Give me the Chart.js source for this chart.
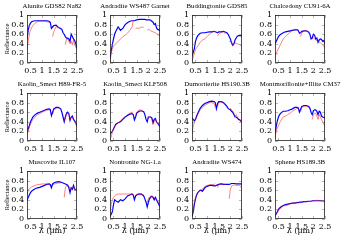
<!DOCTYPE html>
<html><head><meta charset="utf-8">
<script src="https://cdn.jsdelivr.net/npm/chart.js@4/dist/chart.umd.min.js"></script>
<style>
html,body{margin:0;padding:0;background:#fff;width:346px;height:242px;overflow:hidden;position:relative}
canvas{position:absolute}
</style></head><body>
<script>
// Wavelength grid (µm)
const WAVELENGTHS=[0.35,0.4,0.45,0.5,0.55,0.6,0.7,0.8,0.9,1.0,1.1,1.2,1.3,1.35,1.4,1.45,1.5,1.6,1.7,1.8,1.85,1.9,1.95,2.0,2.05,2.1,2.15,2.2,2.25,2.3,2.35,2.4,2.45,2.5];
const X_TICKS=[0.5,1,1.5,2,2.5];
const Y_TICKS=[0,0.2,0.4,0.6,0.8,1];
const TITLES=["Alunite GDS82 Na82","Andradite WS487 Garnet","Buddingtonite GDS85","Chalcedony CU91-6A",
"Kaolin_Smect H89-FR-5","Kaolin_Smect KLF508","Dumortierite HS190.3B","Montmorillonite+Illite CM37",
"Muscovite IL107","Nontronite NG-1.a","Andradite WS474","Sphene HS189.3B"];

const aluniteBlue=[0.5,0.68,0.78,0.83,0.86,0.87,0.88,0.88,0.88,0.88,0.88,0.88,0.87,0.85,0.72,0.75,0.78,0.79,0.74,0.72,0.7,0.63,0.6,0.55,0.52,0.52,0.5,0.45,0.6,0.55,0.5,0.47,0.4,0.3];
const aluniteRed=[0.25,0.45,0.6,0.68,0.74,0.78,0.83,0.86,0.87,0.87,0.87,0.86,0.85,0.82,null,0.55,0.65,0.76,0.74,0.7,null,null,null,0.38,0.5,0.5,0.45,0.4,0.45,0.38,0.48,0.38,0.33,0.28];
const andradite487Blue=[0.1,0.25,0.38,0.5,0.6,0.66,0.75,0.68,0.72,0.8,0.84,0.87,0.88,0.88,0.88,0.89,0.9,0.91,0.91,0.91,0.91,0.9,0.9,0.9,0.9,0.89,0.87,0.85,0.8,0.82,0.73,0.7,0.69,0.67];
const andradite487Red=[0.0,0.2,0.3,0.35,0.38,0.4,0.45,0.5,0.55,0.58,0.62,0.68,0.75,0.9,null,0.72,0.73,0.72,0.75,0.74,null,null,0.68,0.7,0.69,0.67,0.66,0.65,0.64,0.63,0.61,0.6,0.58,0.55];
const buddingtoniteBlue=[0.15,0.22,0.3,0.45,0.52,0.57,0.62,0.63,0.63,0.64,0.65,0.65,0.66,0.65,0.64,0.63,0.65,0.65,0.66,0.64,0.63,0.6,0.55,0.5,0.42,0.37,0.4,0.48,0.52,0.56,0.57,0.57,0.57,0.55];
const buddingtoniteRed=[0.05,0.12,0.2,0.28,0.32,0.35,0.43,0.48,0.5,0.55,0.6,0.64,0.66,0.64,null,0.56,0.6,0.64,0.65,0.6,null,null,0.45,0.45,0.44,0.35,0.38,0.42,0.41,0.4,0.39,0.38,0.36,0.33];
const chalcedonyBlue=[0.4,0.45,0.5,0.55,0.58,0.6,0.63,0.65,0.66,0.67,0.68,0.69,0.69,0.68,0.62,0.63,0.66,0.67,0.67,0.64,0.6,0.5,0.52,0.6,0.58,0.5,0.52,0.43,0.48,0.5,0.49,0.45,0.47,0.4];
const chalcedonyRed=[0.1,0.2,0.25,0.3,0.35,0.4,0.5,0.55,0.6,0.64,0.68,0.7,0.7,0.69,null,0.55,0.62,0.67,0.67,0.65,null,null,0.5,0.52,0.5,0.48,0.47,0.45,0.44,0.42,0.4,0.38,0.35,0.3];
const kaolinH89Blue=[0.2,0.25,0.32,0.4,0.45,0.5,0.55,0.58,0.6,0.62,0.64,0.66,0.67,0.66,0.53,0.6,0.67,0.7,0.7,0.67,0.6,0.5,0.4,0.5,0.58,0.6,0.57,0.43,0.5,0.52,0.45,0.42,0.38,0.32];
const kaolinH89Red=[0.12,0.2,0.28,0.35,0.4,0.45,0.5,0.55,0.57,0.6,0.62,0.64,0.65,0.63,null,0.55,0.64,0.68,0.69,0.66,null,null,0.42,0.5,0.55,0.58,0.55,0.45,0.5,0.5,0.44,0.4,0.35,0.28];
const kaolinKLFBlue=[0.15,0.17,0.2,0.25,0.3,0.35,0.38,0.4,0.45,0.5,0.53,0.56,0.57,0.55,0.44,0.5,0.58,0.62,0.63,0.61,0.55,0.45,0.4,0.5,0.5,0.5,0.48,0.38,0.45,0.47,0.4,0.37,0.34,0.3];
const kaolinKLFRed=[0.05,0.08,0.18,0.25,0.3,0.33,0.38,0.42,0.47,0.5,0.55,0.58,0.6,0.6,null,0.55,0.6,0.65,0.64,0.6,null,null,0.45,0.5,0.5,0.5,0.45,0.35,0.4,0.45,0.4,0.35,0.32,0.28];
const dumortieriteBlue=[0.48,0.45,0.42,0.45,0.52,0.58,0.68,0.74,0.78,0.8,0.82,0.83,0.82,0.8,0.67,0.78,0.82,0.82,0.8,0.75,0.72,0.68,0.66,0.65,0.62,0.6,0.55,0.5,0.5,0.48,0.45,0.44,0.42,0.38];
const dumortieriteRed=[0.15,0.3,0.38,0.45,0.5,0.55,0.65,0.7,0.74,0.77,0.8,0.8,0.78,0.7,null,0.72,0.8,0.82,0.8,0.76,null,null,0.65,0.68,0.65,0.62,0.58,0.52,0.55,0.5,0.47,0.45,0.42,0.38];
const montmorilloniteBlue=[0.15,0.3,0.42,0.5,0.55,0.58,0.62,0.62,0.63,0.65,0.67,0.7,0.7,0.69,0.6,0.66,0.72,0.74,0.74,0.72,0.68,0.6,0.55,0.63,0.65,0.65,0.62,0.55,0.62,0.6,0.52,0.5,0.49,0.48];
const montmorilloniteRed=[0.05,0.2,0.27,0.32,0.38,0.42,0.5,0.52,0.55,0.58,0.62,0.65,0.68,0.67,null,0.6,0.7,0.72,0.72,0.7,null,null,0.45,0.55,0.57,0.58,0.52,0.45,0.55,0.5,0.45,0.4,0.35,0.3];
const muscoviteBlue=[0.38,0.45,0.5,0.55,0.58,0.6,0.63,0.65,0.66,0.68,0.7,0.72,0.73,0.72,0.65,0.73,0.75,0.77,0.78,0.77,0.76,0.75,0.74,0.73,0.72,0.7,0.65,0.55,0.65,0.62,0.7,0.62,0.6,0.6];
const muscoviteRed=[0.5,0.6,0.63,0.65,0.67,0.68,0.7,0.72,0.72,0.73,0.73,0.73,0.72,0.7,null,0.7,0.72,0.74,0.75,0.75,null,null,0.45,0.65,0.7,0.72,0.68,0.65,0.62,0.65,0.65,0.63,0.62,0.62];
const nontroniteBlue=[0.05,0.1,0.15,0.3,0.4,0.38,0.35,0.4,0.38,0.42,0.48,0.5,0.52,0.5,0.4,0.48,0.5,0.52,0.52,0.48,0.42,0.35,0.25,0.35,0.42,0.46,0.47,0.45,0.4,0.45,0.4,0.35,0.3,0.25];
const nontroniteRed=[0.1,0.3,0.4,0.45,0.48,0.5,0.52,0.52,0.52,0.52,0.52,0.52,0.52,0.5,null,0.48,0.52,0.53,0.52,0.5,null,null,0.35,0.42,0.46,0.48,0.48,0.47,0.45,0.42,0.4,0.38,0.35,0.32];
const andradite474Blue=[0.05,0.15,0.3,0.42,0.5,0.55,0.6,0.58,0.65,0.68,0.7,0.7,0.69,0.69,0.7,0.71,0.72,0.73,0.72,0.72,0.72,0.72,0.72,0.73,0.74,0.74,0.74,0.74,0.73,0.73,0.73,0.73,0.73,0.72];
const andradite474Red=[0.08,0.2,0.35,0.45,0.5,0.55,0.6,0.62,0.68,0.7,0.71,0.72,0.72,0.74,null,0.65,0.72,0.74,0.73,0.72,null,null,0.42,0.62,0.68,0.7,0.71,0.71,0.7,0.7,0.7,0.7,0.68,0.6];
const spheneBlue=[0.08,0.1,0.15,0.2,0.23,0.25,0.28,0.3,0.31,0.32,0.33,0.33,0.34,0.34,0.35,0.35,0.35,0.36,0.36,0.37,0.37,0.37,0.38,0.38,0.38,0.38,0.38,0.38,0.38,0.38,0.38,0.38,0.38,0.37];
const spheneRed=[0.05,0.1,0.14,0.18,0.2,0.22,0.27,0.28,0.29,0.32,0.33,0.34,0.35,0.35,null,0.33,0.35,0.36,0.37,0.37,null,null,0.37,0.38,0.38,0.39,0.39,0.39,0.38,0.38,0.37,0.37,0.36,0.35];

const BLUE_SERIES=[aluniteBlue,andradite487Blue,buddingtoniteBlue,chalcedonyBlue,kaolinH89Blue,kaolinKLFBlue,dumortieriteBlue,montmorilloniteBlue,muscoviteBlue,nontroniteBlue,andradite474Blue,spheneBlue];
const RED_SERIES=[aluniteRed,andradite487Red,buddingtoniteRed,chalcedonyRed,kaolinH89Red,kaolinKLFRed,dumortieriteRed,montmorilloniteRed,muscoviteRed,nontroniteRed,andradite474Red,spheneRed];

const TICK_FONT={family:"DejaVu Serif",size:8};
const fmt=v=>String(Number(v.toFixed(2)));
const PAD_L=12, CANVAS_W=106;

const framePlugin={
  id:'frame',
  afterDatasetsDraw(chart,args,opts){
    const {ctx,chartArea:a,scales}=chart;
    ctx.save();
    ctx.strokeStyle='#888';ctx.lineWidth=0.6;
    ctx.beginPath();
    X_TICKS.forEach(v=>{const p=Math.round(scales.x.getPixelForValue(v))+0.5;
      ctx.moveTo(p,a.bottom);ctx.lineTo(p,a.bottom-3);ctx.moveTo(p,a.top);ctx.lineTo(p,a.top+3);});
    Y_TICKS.forEach(v=>{const p=Math.round(scales.y.getPixelForValue(v))+0.5;
      ctx.moveTo(a.left,p);ctx.lineTo(a.left+3,p);ctx.moveTo(a.right,p);ctx.lineTo(a.right-3,p);});
    ctx.stroke();
    ctx.strokeStyle='#222';ctx.lineWidth=0.8;
    ctx.strokeRect(Math.round(a.left)+0.5,Math.round(a.top)+0.5,Math.round(a.right-a.left)-1,Math.round(a.bottom-a.top)-1);
    ctx.fillStyle='#000';ctx.font='6.8px "Liberation Serif"';ctx.textAlign='center';ctx.textBaseline='middle';
    ctx.fillText(opts.title,(a.left+a.right)/2,6.5);
    ctx.restore();
  }
};

TITLES.forEach((title,i)=>{
  const col=i%4,row=Math.floor(i/4);
  const last=row===2;
  const w=CANVAS_W,h=last?86:78;
  const cv=document.createElement('canvas');
  cv.width=w;cv.height=h;
  cv.style.left=(Math.round(col*82.5)-PAD_L)+'px';cv.style.top=(row*78)+'px';
  cv.style.width=w+'px';cv.style.height=h+'px';
  document.body.appendChild(cv);
  const xHeight=last?23:15;
  new Chart(cv,{
    type:'line',
    data:{labels:WAVELENGTHS,datasets:[
      {data:BLUE_SERIES[i].map((y,k)=>({x:WAVELENGTHS[k],y})),borderColor:'#0000ff',borderWidth:1.2,pointRadius:0,tension:0,order:2},
      {data:RED_SERIES[i].map((y,k)=>({x:WAVELENGTHS[k],y})),borderColor:'rgba(255,0,0,0.55)',borderWidth:0.9,pointRadius:0,tension:0,spanGaps:false,order:1}
    ]},
    options:{
      responsive:false,animation:false,devicePixelRatio:1,
      layout:{padding:{top:15,right:CANVAS_W-PAD_L-77,left:PAD_L,bottom:0}},
      plugins:{legend:{display:false},tooltip:{enabled:false},title:{display:false},frame:{title}},
      scales:{
        x:{type:'linear',min:0.35,max:2.5,
          grid:{display:false,drawTicks:false},border:{display:false},
          afterBuildTicks(s){s.ticks=X_TICKS.map(v=>({value:v}));},
          afterFit(s){s.height=xHeight;s.paddingLeft=0;s.paddingRight=0;},
          ticks:{font:TICK_FONT,color:'#000',padding:3,maxRotation:0,autoSkip:false,callback:v=>fmt(v)},
          title:{display:last,text:'λ (μm)',font:{family:"DejaVu Serif",size:8},color:'#000',padding:{top:0,bottom:6}}
        },
        y:{min:0,max:1,
          grid:{display:false,drawTicks:false},border:{display:false},
          afterBuildTicks(s){s.ticks=Y_TICKS.map(v=>({value:v}));},
          afterFit(s){s.width=27;s.paddingTop=0;s.paddingBottom=0;},
          ticks:{font:TICK_FONT,color:'#000',padding:3,autoSkip:false,callback:v=>fmt(v)},
          title:{display:col===0,text:'Reflectance',font:{family:"Liberation Serif",size:6.5},color:'#000',padding:{top:3.2,bottom:0}}
        }
      }
    },
    plugins:[framePlugin]
  });
});
</script>
</body></html>
